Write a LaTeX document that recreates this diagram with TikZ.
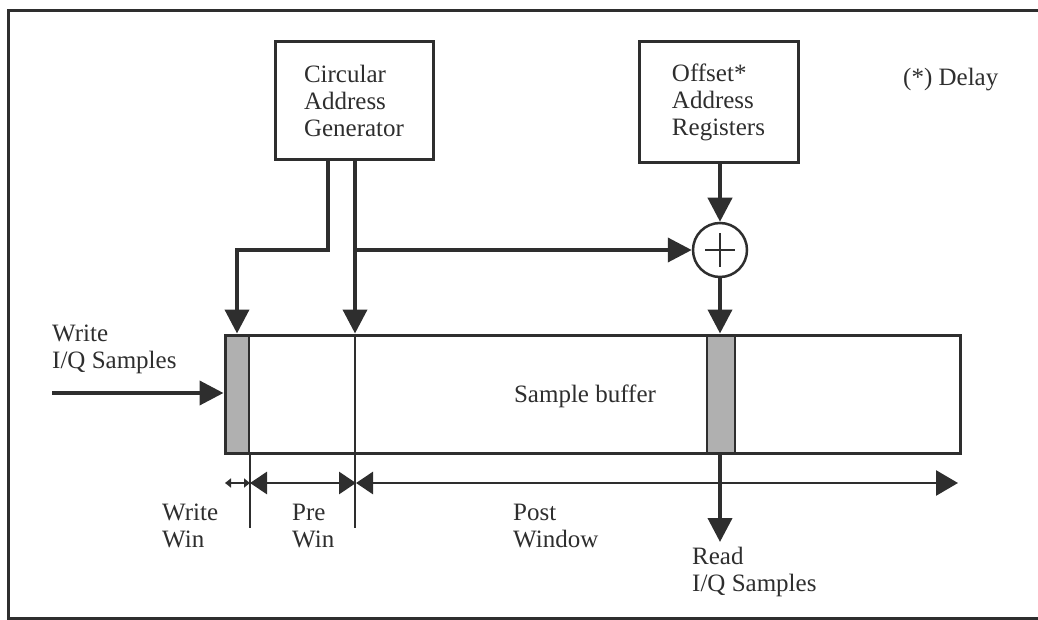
\documentclass[tikz,border=0pt]{standalone}
\usepackage{fontspec}
\setmainfont{Liberation Serif}
\usetikzlibrary{arrows.meta}
\definecolor{ink}{HTML}{2E2E2E}
\definecolor{wingray}{HTML}{B0B0B0}
\begin{document}
\begin{tikzpicture}[x=1pt,y=-1pt,
  font=\fontsize{25}{27}\selectfont,
  box/.style={draw=ink,line width=3pt,inner sep=0pt,align=left,text=ink},
  conn/.style={draw=ink,line width=4pt,-{Triangle[length=24pt,width=24pt]}},
  plain/.style={draw=ink,line width=2.5pt},
  dim/.style={draw=ink,line width=2.8pt},
  winbox/.style={fill=wingray,draw=ink,line width=2.5pt},
  tipS/.tip={Triangle[length=17pt,width=22pt]},
  tipL/.tip={Triangle[length=22pt,width=25pt]},
  tipT/.tip={Triangle[length=6pt,width=9pt]},
  lbl/.style={inner sep=0pt,align=left,anchor=west,text=ink}]
\useasboundingbox (0,0) rectangle (1038,620);
% frame
\draw[ink,line width=3pt] (1038,11) -- (8,11) -- (8,618) -- (1038,618);
% boxes
\node[box,minimum width=158pt,minimum height=118pt] (cag) at (354,101) {Circular\\Address\\Generator};
\node[box,minimum width=159pt,minimum height=121pt] (off) at (718.5,102.5) {Offset*\\Address\\Registers};
\node[draw=ink,line width=2.5pt,circle,minimum size=54pt,inner sep=0pt] (sum) at (720,250) {};
\draw[ink,line width=2pt] ([xshift=-15pt]sum.center) -- ([xshift=15pt]sum.center);
\draw[ink,line width=2pt] ([yshift=-17pt]sum.center) -- ([yshift=17pt]sum.center);
% buffer
\path[winbox] (225,335) rectangle (249,453);
\path[winbox] (707,335) rectangle (735,453);
\node[draw=ink,line width=3pt,minimum width=735pt,minimum height=118pt,inner sep=0pt] (buf) at (592.5,394) {};
\node[lbl,anchor=center] (bufl) at (585,396) {Sample buffer};
% connectors
\coordinate (j1) at (328,250);
\coordinate (j2) at (237,250);
\coordinate (br) at (355,250);
\coordinate (rd) at (720,542);
\coordinate (wi) at (52,393);
\draw[conn] (cag.south -| j1) -- (j1) -- (j2) -- (buf.north -| j2);
\draw[conn] (cag.south -| br) -- (buf.north -| br);
\draw[conn] (br) -- (sum.west);
\draw[conn] (off.south -| sum.north) -- (sum.north);
\draw[conn] (sum.south) -- (buf.north -| sum.south);
\draw[conn] (buf.south -| rd) -- (rd);
\draw[conn] (wi) -- (buf.west |- wi);
% window marks
\coordinate (v1) at (250,528);
\coordinate (v2) at (355,528);
\draw[plain] (buf.north -| v2) -- (v2);
\draw[plain] (buf.south -| v1) -- (v1);
\coordinate (d0) at (225,483);
\coordinate (d1) at (250,483);
\coordinate (d2) at (356,483);
\coordinate (d3) at (958,483);
\draw[dim,tipT-tipT] (d0) -- (d1);
\draw[dim,tipS-tipS] (d1) -- (d2);
\draw[dim,tipS-tipL] (d2) -- (d3);
% labels
\node[lbl] (wlab) at (52,349) {Write\\I/Q Samples};
\node[lbl] (wwin) at (162,526) {Write\\Win};
\node[lbl] (pwin) at (292,526) {Pre\\Win};
\node[lbl] (post) at (513,526) {Post\\Window};
\node[lbl] (rlab) at (692,572) {Read\\I/Q Samples};
\node[lbl] (dly) at (903,80) {(*) Delay};
\end{tikzpicture}
\end{document}
